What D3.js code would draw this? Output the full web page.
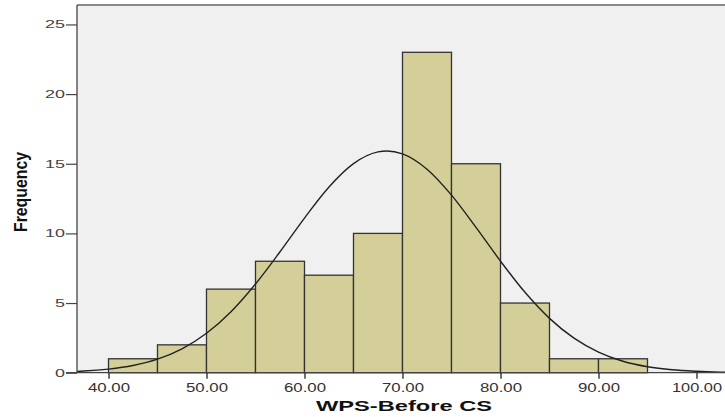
<!doctype html>
<html>
<head>
<meta charset="utf-8">
<script src="https://cdnjs.cloudflare.com/ajax/libs/d3/7.8.5/d3.min.js"></script>
<style>
  body { margin: 0; background: #fff; }
  svg { display: block; font-family: "Liberation Sans", Arial, sans-serif; }
</style>
</head>
<body>
<svg id="chart" width="725" height="417"></svg>
<script>
// histogram bins (lower edge) and counts
var binStarts = [40, 45, 50, 55, 60, 65, 70, 75, 80, 85, 90];
var binWidth = 5;
var counts = [1, 2, 6, 8, 7, 10, 23, 15, 5, 1, 1];

// normal curve
var curveX = [36, 37.5, 40, 42.5, 45, 47.5, 50, 52.5, 55, 57.5, 60, 62.5, 65, 67.5, 68.4, 70, 72.5, 75, 77.5, 80, 82.5, 85, 87.5, 90, 92.5, 95, 97.5, 100, 102.5, 104];
var curveY = [0.08, 0.12, 0.26, 0.52, 0.97, 1.71, 2.83, 4.38, 6.37, 8.68, 11.1, 13.33, 15.01, 15.85, 15.92, 15.71, 14.61, 12.75, 10.43, 8.01, 5.77, 3.9, 2.48, 1.48, 0.82, 0.43, 0.21, 0.1, 0.04, 0.02];

var xTicks = [40, 50, 60, 70, 80, 90, 100];
var yTicks = [0, 5, 10, 15, 20, 25];

var svg = d3.select("#chart");
var pLeft = 77, pTop = 5, pRight = 740, pBottom = 372.7;

var x = d3.scaleLinear().domain([40, 100]).range([108.5, 696.5]);
var y = d3.scaleLinear().domain([0, 25]).range([pBottom, pBottom - 25 * 13.93]);

// plot background
svg.append("rect")
  .attr("x", pLeft).attr("y", pTop)
  .attr("width", pRight - pLeft).attr("height", pBottom - pTop)
  .attr("fill", "#f0f0f0");
svg.append("line")
  .attr("x1", pLeft).attr("x2", pRight)
  .attr("y1", pTop).attr("y2", pTop)
  .attr("stroke", "#8a8a8a").attr("stroke-width", 2);

svg.append("clipPath").attr("id", "clip")
  .append("rect")
  .attr("x", pLeft).attr("y", pTop)
  .attr("width", pRight - pLeft).attr("height", pBottom - pTop);

// bars
svg.selectAll("rect.bar")
  .data(counts)
  .enter()
  .append("rect")
  .attr("class", "bar")
  .attr("x", (d, i) => x(binStarts[i]))
  .attr("width", (d, i) => x(binStarts[i] + binWidth) - x(binStarts[i]))
  .attr("y", d => y(d))
  .attr("height", d => y(0) - y(d))
  .attr("fill", "#d4cf98")
  .attr("stroke", "#333")
  .attr("stroke-width", 1.3);

// normal curve
var line = d3.line()
  .x(d => x(d[0]))
  .y(d => y(d[1]))
  .curve(d3.curveMonotoneX);
svg.append("path")
  .datum(curveX.map((v, i) => [v, curveY[i]]))
  .attr("clip-path", "url(#clip)")
  .attr("d", line)
  .attr("fill", "none")
  .attr("stroke", "#222")
  .attr("stroke-width", 1.4);

// y axis
var yAxis = svg.append("g")
  .attr("transform", "translate(" + pLeft + ",0)")
  .call(d3.axisLeft(y).tickValues(yTicks).tickSize(11).tickPadding(1));
yAxis.select(".domain").attr("stroke", "#444").attr("stroke-width", 1.3)
  .attr("d", "M0," + pTop + "V" + pBottom);
yAxis.selectAll(".tick line").attr("stroke", "#444").attr("stroke-width", 1.2);
yAxis.selectAll(".tick text")
  .attr("fill", "#444").style("font-size", "11px")
  .style("font-family", "'Liberation Sans', Arial, sans-serif")
  .attr("textLength", d => String(d).length * 10)
  .attr("lengthAdjust", "spacingAndGlyphs");

// x axis
var xAxis = svg.append("g")
  .attr("transform", "translate(0," + pBottom + ")")
  .call(d3.axisBottom(x).tickValues(xTicks).tickSize(6).tickPadding(4).tickFormat(d3.format(".2f")));
xAxis.select(".domain").attr("stroke", "#444").attr("stroke-width", 1.2)
  .attr("d", "M" + (pLeft - 11) + ",0H" + pRight);
xAxis.selectAll(".tick line").attr("stroke", "#333").attr("stroke-width", 1.4);
xAxis.selectAll(".tick text")
  .attr("fill", "#333").style("font-size", "12.5px")
  .style("font-family", "'Liberation Sans', Arial, sans-serif")
  .attr("textLength", d => d >= 100 ? 50 : 42)
  .attr("lengthAdjust", "spacingAndGlyphs");

// axis titles
svg.append("text")
  .attr("x", 404).attr("y", 411)
  .attr("text-anchor", "middle")
  .attr("textLength", 176).attr("lengthAdjust", "spacingAndGlyphs")
  .style("font-size", "15.5px").style("font-weight", "bold")
  .attr("fill", "#111")
  .text("WPS-Before CS");

svg.append("text")
  .attr("transform", "translate(26.5,192) rotate(-90)")
  .attr("text-anchor", "middle")
  .attr("textLength", 80).attr("lengthAdjust", "spacingAndGlyphs")
  .style("font-size", "18px").style("font-weight", "bold")
  .attr("fill", "#111")
  .text("Frequency");
</script>
</body>
</html>
